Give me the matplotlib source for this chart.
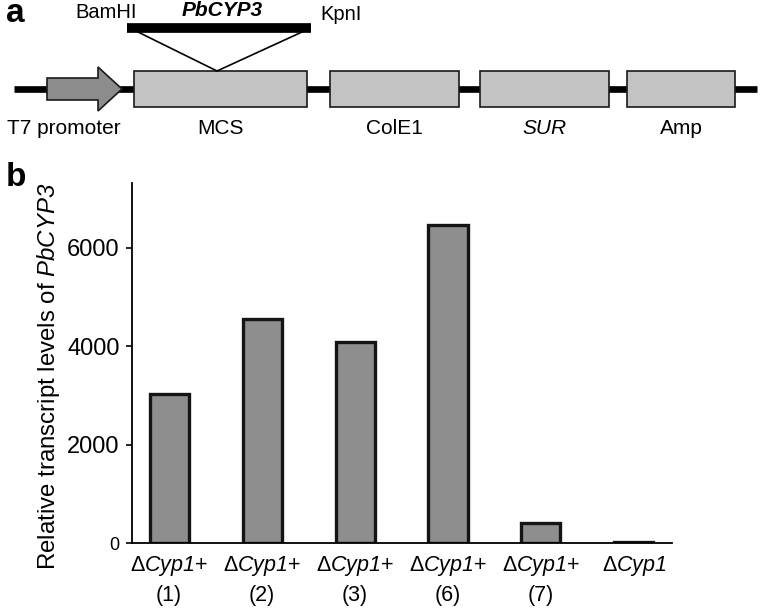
import matplotlib
matplotlib.use("Agg")
import matplotlib.pyplot as plt
from matplotlib.patches import Rectangle, Polygon

plt.rcParams['font.family'] = ['Liberation Sans', 'DejaVu Sans']
plt.rcParams['mathtext.fontset'] = 'custom'
plt.rcParams['mathtext.rm'] = 'Liberation Sans'
plt.rcParams['mathtext.sf'] = 'Liberation Sans:italic'

# --- data (panel b)
strains = ["(1)", "(2)", "(3)", "(6)", "(7)", ""]
transcript = [3030, 4550, 4080, 6460, 400, 25]

# --- construct (panel a)
elements = ["MCS", "ColE1", "SUR", "Amp"]
element_italic = [False, False, True, False]

fig = plt.figure(figsize=(7.74, 6.09), dpi=100)

# ---------------- panel a: vector map (drawn in pixel units)
axa = fig.add_axes([0, 1 - 150 / 609, 1, 150 / 609])
axa.set_xlim(0, 774)
axa.set_ylim(150, 0)
axa.axis('off')

axa.plot([14, 757], [89, 89], color='black', lw=4.8, solid_capstyle='butt', zorder=1)

arrow = Polygon([[47, 78], [98, 78], [98, 67], [122, 89], [98, 111], [98, 100], [47, 100]],
                closed=True, facecolor='#8c8c8c', edgecolor='#1a1a1a', lw=1.2, zorder=2)
axa.add_patch(arrow)
axa.text(64, 128, "T7 promoter", ha='center', va='center', fontsize=15)

box_x = [(134, 307), (330, 459), (480, 609), (627, 735)]
for (x0, x1), name, it in zip(box_x, elements, element_italic):
    axa.add_patch(Rectangle((x0, 71), x1 - x0, 36, facecolor='#c3c3c3',
                            edgecolor='#1a1a1a', lw=1.2, zorder=2))
    axa.text((x0 + x1) / 2, 128, name, ha='center', va='center', fontsize=15,
             style='italic' if it else 'normal')

# insert
axa.plot([127, 311], [28, 28], color='black', lw=7, solid_capstyle='butt', zorder=3)
axa.plot([138, 217, 302], [32, 71, 32], color='black', lw=1.2, zorder=3)
axa.text(106, 13, "BamHI", ha='center', va='center', fontsize=14.5)
axa.text(222, 11, "PbCYP3", ha='center', va='center', fontsize=15,
         fontweight='bold', style='italic')
axa.text(341, 14, "KpnI", ha='center', va='center', fontsize=14.5)
axa.text(6, 14, "a", ha='left', va='center', fontsize=24, fontweight='bold')

# ---------------- panel b: bar chart
ax = fig.add_axes([132 / 774, 1 - 543 / 609, 540 / 774, 360 / 609])
x = list(range(len(transcript)))
ax.bar(x, transcript, width=0.42, color='#8e8e8e', edgecolor='#151515', linewidth=2.4, zorder=2)
ax.set_xlim(-0.40, 5.41)
ax.set_ylim(0, 7320)
ax.spines['top'].set_visible(False)
ax.spines['right'].set_visible(False)
ax.spines['left'].set_linewidth(1.3)
ax.spines['bottom'].set_linewidth(1.3)
ax.set_yticks([0, 2000, 4000, 6000])
ax.tick_params(axis='y', direction='out', length=4, width=1.2, labelsize=17, pad=5)
ax.tick_params(axis='x', length=0, pad=8)
ax.get_yticklabels()[0].set_fontsize(13)

labels = []
for s in strains:
    if s:
        labels.append("Δ$\\mathsf{Cyp1}$+\n" + s)
    else:
        labels.append("Δ$\\mathsf{Cyp1}$\n ")
ax.set_xticks(x)
ax.set_xticklabels(labels, fontsize=15.5, linespacing=1.45, va='top')

ax.set_ylabel("Relative transcript levels of $\\mathsf{PbCYP3}$", fontsize=17.3)
ax.yaxis.set_label_coords(-0.13, 0.464)

fig.text(6 / 774, 1 - 178 / 609, "b", fontsize=24, fontweight='bold', va='center')

fig.savefig("out.png", dpi=100)
